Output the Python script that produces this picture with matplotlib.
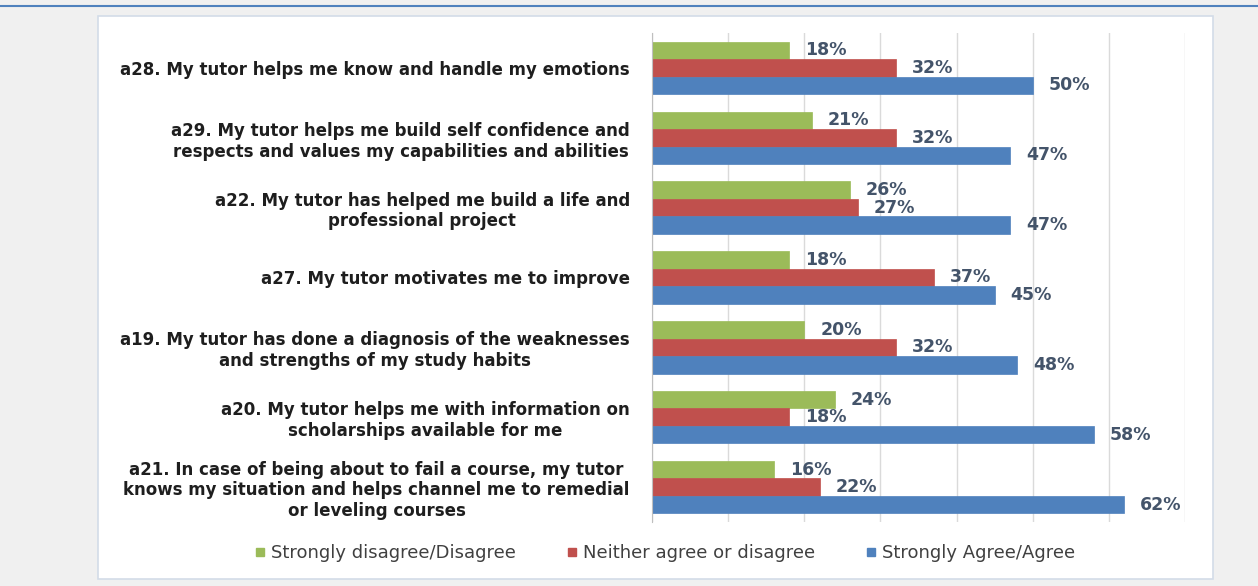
import matplotlib
matplotlib.use("Agg")
import matplotlib.pyplot as plt
from matplotlib.patches import Rectangle
from matplotlib.lines import Line2D
import numpy as np

categories = [
    "a28. My tutor helps me know and handle my emotions",
    "a29. My tutor helps me build self confidence and\nrespects and values my capabilities and abilities",
    "a22. My tutor has helped me build a life and\nprofessional project",
    "a27. My tutor motivates me to improve",
    "a19. My tutor has done a diagnosis of the weaknesses\nand strengths of my study habits",
    "a20. My tutor helps me with information on\nscholarships available for me",
    "a21. In case of being about to fail a course, my tutor\nknows my situation and helps channel me to remedial\nor leveling courses",
]
series_names = ["Strongly disagree/Disagree", "Neither agree or disagree", "Strongly Agree/Agree"]
disagree = [18, 21, 26, 18, 20, 24, 16]
neutral = [32, 32, 27, 37, 32, 18, 22]
agree = [50, 47, 47, 45, 48, 58, 62]
x_ticks = [0, 10, 20, 30, 40, 50, 60, 70]

colors = ["#9bbb59", "#c0504d", "#4f81bd"]
label_color = "#44546a"

W, H = 1258, 586
fig = plt.figure(figsize=(W / 100, H / 100), dpi=100, facecolor="#f0f0f0")

# chart box
fig.patches.append(Rectangle((98 / W, 1 - 579 / H), (1213 - 98) / W, (579 - 16) / H,
                             transform=fig.transFigure, facecolor="white",
                             edgecolor="#d3dce8", lw=1.2, zorder=-10))
# top rule line of the page
fig.add_artist(Line2D([0, 1], [1 - 6 / H, 1 - 6 / H], transform=fig.transFigure,
                      color="#4f81bd", lw=1.5, zorder=-5))

ax = fig.add_axes([652 / W, 1 - 522 / H, (1185 - 652) / W, (522 - 33) / H])
ax.set_facecolor("none")
ax.set_zorder(2)

y = np.arange(len(categories))
h = 0.25
series = [disagree, neutral, agree]
offsets = [-h, 0, h]
for vals, off, c in zip(series, offsets, colors):
    bars = ax.barh(y + off, vals, height=h, color=c, edgecolor=c, lw=0.5, zorder=3)
    for b, v in zip(bars, vals):
        ax.annotate(f"{v}%", (v, b.get_y() + b.get_height() / 2), xytext=(11.5, 0),
                    textcoords="offset points", ha="left", va="center",
                    fontsize=12.5, fontweight="bold", color=label_color)

ax.set_xlim(0, 70)
ax.set_ylim(len(categories) - 0.5, -0.5)
ax.set_xticks(x_ticks)
ax.set_xticklabels([])
ax.tick_params(axis="x", length=0)
ax.grid(axis="x", color="#dadada", lw=1, zorder=0)
ax.set_yticks(y)
ax.set_yticklabels(categories, fontsize=12, fontweight="bold", color="#1e1e1e")
for t in ax.get_yticklabels():
    t.set_multialignment("center")
ax.tick_params(axis="y", length=0, pad=16)
for s in ["top", "right", "bottom"]:
    ax.spines[s].set_visible(False)
ax.spines["left"].set_color("#bfbfbf")
ax.spines["left"].set_zorder(4)

handles = [Line2D([], [], marker="s", ls="none", markersize=6, color=c) for c in colors]
fig.legend(handles, series_names, loc="center", bbox_to_anchor=(665 / W, 1 - 553 / H),
           ncol=3, frameon=False, fontsize=13, handlelength=0.6, handletextpad=0.3,
           columnspacing=2.8, labelcolor="#404040")

fig.savefig("out.png", dpi=100, facecolor=fig.get_facecolor())
